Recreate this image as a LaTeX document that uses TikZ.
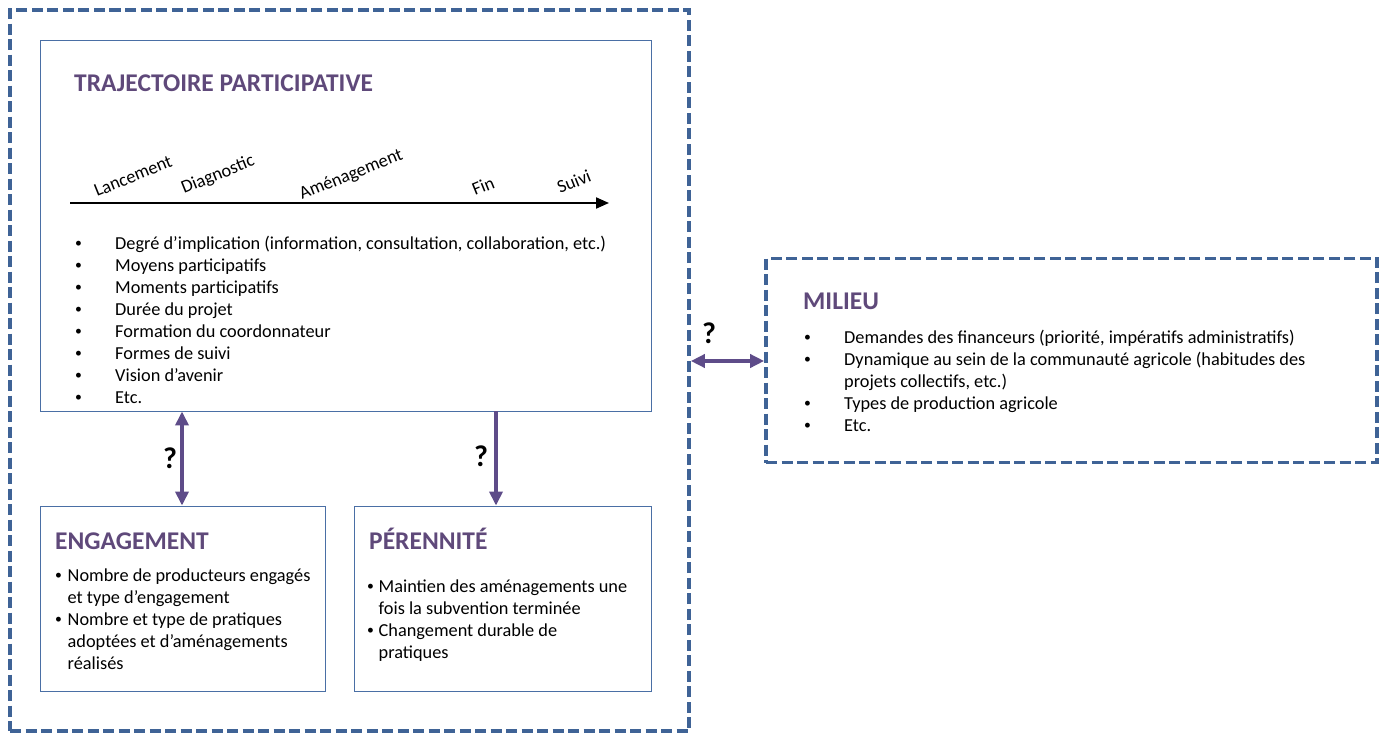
\documentclass[tikz,border=0pt]{standalone}
\usepackage{fontspec}
\usepackage{graphicx}
\setmainfont{Carlito}
\usetikzlibrary{arrows.meta}
\definecolor{frameblue}{HTML}{3F6396}
\definecolor{boxblue}{HTML}{4A6FA5}
\definecolor{titlepurple}{HTML}{5F497A}
\definecolor{linkpurple}{HTML}{5E4C89}
% small list bullet
\newcommand{\smallbullet}{\raisebox{0.2ex}{\scalebox{0.75}{•}}}
\tikzset{
  dashframe/.style={draw=frameblue, line width=3.6pt, dash pattern=on 11pt off 4.5pt, inner sep=0pt},
  plainbox/.style={draw=boxblue, line width=0.9pt, inner sep=0pt},
  boxtitle/.style={anchor=base west, inner sep=0pt, text=titlepurple, font=\fontsize{25.5}{30}\selectfont\bfseries},
  itemlist/.style={anchor=north west, inner sep=0pt, font=\fontsize{18.3}{22}\selectfont},
  phase/.style={anchor=base west, inner sep=0pt, rotate=22, font=\fontsize{18.3}{22}\selectfont},
  qmark/.style={inner sep=0pt, font=\fontsize{30}{34}\selectfont\bfseries},
  link/.style={draw=linkpurple, line width=4.5pt, -{Triangle[length=14pt,width=13pt]}},
  duallink/.style={draw=linkpurple, line width=4.5pt, {Triangle[length=14pt,width=13pt]}-{Triangle[length=14pt,width=13pt]}},
  timeline/.style={draw=black, line width=2pt, -{Triangle[length=13pt,width=11pt]}}
}
\begin{document}
\begin{tikzpicture}[x=1pt,y=-1pt]
\useasboundingbox (0,0) rectangle (1385,734);

% frames
\node[dashframe, minimum width=679pt, minimum height=721pt] (outer) at (349.5,370.5) {};
\node[dashframe, minimum width=611pt, minimum height=204pt] (milieu) at (1071.5,360.5) {};
\node[plainbox, minimum width=611pt, minimum height=371pt] (traj) at (345.5,225.5) {};
\node[plainbox, minimum width=285pt, minimum height=185pt] (eng) at (182.5,598.5) {};
\node[plainbox, minimum width=297pt, minimum height=185pt] (per) at (502.5,598.5) {};

% titles
\node[boxtitle] (trajtitle) at (74,91) {TRAJECTOIRE PARTICIPATIVE};
\node[boxtitle] (engtitle) at (55,549) {ENGAGEMENT};
\node[boxtitle] (pertitle) at (369,549) {PÉRENNITÉ};
\node[boxtitle] (miltitle) at (803,309) {MILIEU};

% timeline of the project
\coordinate (tstart) at (70,203);
\coordinate (tend) at (609,203);
\draw[timeline] (tstart) -- (tend);
\node[phase] (p1) at (97,197) {Lancement};
\node[phase] (p2) at (184,194) {Diagnostic};
\node[phase] (p3) at (302,200) {Aménagement};
\node[phase] (p4) at (475,196) {Fin};
\node[phase] (p5) at (560,194) {Suivi};

% item lists
\node[itemlist] (trajlist) at (75,234) {%
  \begin{tabular}{@{}p{40pt}@{}l@{}}
  \smallbullet& Degré d’implication (information, consultation, collaboration, etc.)\\
  \smallbullet& Moyens participatifs\\
  \smallbullet& Moments participatifs\\
  \smallbullet& Durée du projet\\
  \smallbullet& Formation du coordonnateur\\
  \smallbullet& Formes de suivi\\
  \smallbullet& Vision d’avenir\\
  \smallbullet& Etc.
  \end{tabular}};
\node[itemlist] (englist) at (55,566) {%
  \begin{tabular}{@{}p{12.5pt}@{}l@{}}
  \smallbullet& Nombre de producteurs engagés\\
  & et type d’engagement\\
  \smallbullet& Nombre et type de pratiques\\
  & adoptées et d’aménagements\\
  & réalisés
  \end{tabular}};
\node[itemlist] (perlist) at (367,577) {%
  \begin{tabular}{@{}p{11.5pt}@{}l@{}}
  \smallbullet& Maintien des aménagements une\\
  & fois la subvention terminée\\
  \smallbullet& Changement durable de\\
  & pratiques
  \end{tabular}};
\node[itemlist] (millist) at (804,328) {%
  \begin{tabular}{@{}p{40pt}@{}l@{}}
  \smallbullet& Demandes des financeurs (priorité, impératifs administratifs)\\
  \smallbullet& Dynamique au sein de la communauté agricole (habitudes des\\
  & projets collectifs, etc.)\\
  \smallbullet& Types de production agricole\\
  \smallbullet& Etc.
  \end{tabular}};

% links between the boxes
\coordinate (xeng) at (182,0);
\coordinate (xper) at (496,0);
\coordinate (ymil) at (0,361);
\draw[duallink] (traj.south -| xeng) -- (eng.north -| xeng);
\draw[link] (traj.south -| xper) -- (per.north -| xper);
\draw[duallink] (outer.east |- ymil) -- (milieu.west |- ymil);
\node[qmark] (q1) at (170,458) {?};
\node[qmark] (q2) at (481,456) {?};
\node[qmark] (q3) at (709,333) {?};
\end{tikzpicture}
\end{document}
